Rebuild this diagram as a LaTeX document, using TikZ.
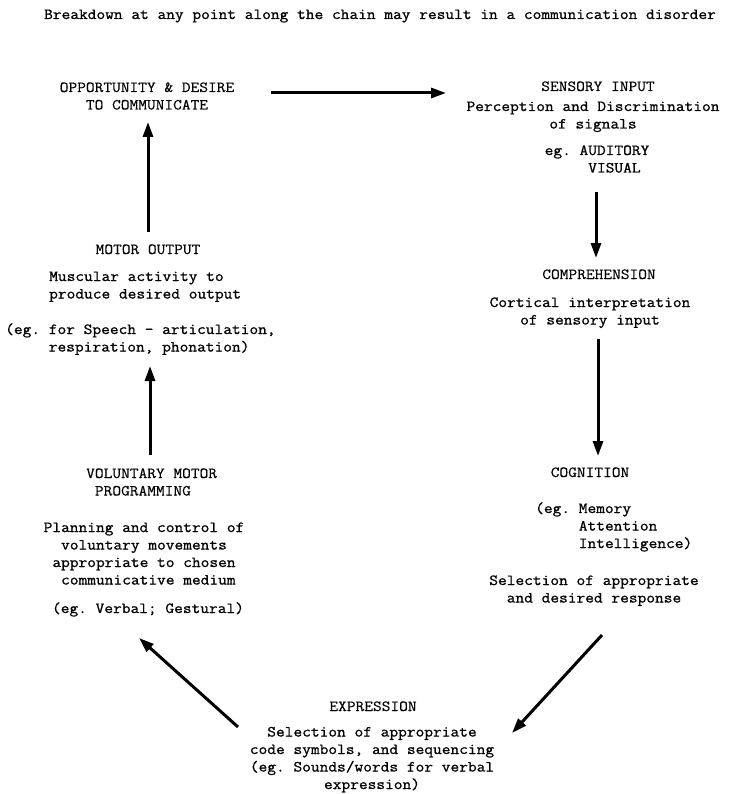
\documentclass[tikz,border=0pt]{standalone}
\usepackage{fontspec}
\newfontfamily\bodyfont{Latin Modern Mono}[FakeStretch=1.1,FakeBold=1]
\newfontfamily\titlefont{Latin Modern Mono}[FakeStretch=1.1,FakeBold=0.4]
\usetikzlibrary{arrows.meta}
\frenchspacing
\tikzset{
  txt/.style={font=\bodyfont\fontsize{15.4pt}{17.5pt}\selectfont\frenchspacing, inner sep=0pt, align=center, anchor=base},
  txtl/.style={txt, align=left, anchor=base west},
  ttl/.style={txt, font=\titlefont\fontsize{15.4pt}{17.5pt}\selectfont\frenchspacing},
  ttll/.style={ttl, align=left, anchor=base west},
  arr/.style={line width=3pt, -{Triangle[length=15pt,width=10pt]}},
}
\begin{document}
\begin{tikzpicture}[x=1pt,y=-1pt]
\useasboundingbox (0,0) rectangle (728,794);
% (for multi-line nodes the base anchor is the baseline of the last line)
% heading
\node[txt] (head) at (380,19) {Breakdown at any point along the chain may result in a communication disorder};
% opportunity
\node[ttl] (opp) at (147,109.5) {OPPORTUNITY \& DESIRE\\TO COMMUNICATE};
% sensory input
\node[ttl] (sens) at (598,91) {SENSORY INPUT};
\node[txt] (sensA) at (593,128.5) {Perception and Discrimination\\of signals};
\node[txt] (sensB) at (597,172.5) {eg. AUDITORY\\\phantom{eg. }VISUAL};
% comprehension
\node[ttl] (comp) at (599,279) {COMPREHENSION};
\node[txt] (compA) at (590,324.5) {Cortical interpretation\\of sensory input};
% cognition
\node[ttl] (cogn) at (590,477) {COGNITION};
\node[txtl] (cognA) at (535,548) {(eg. Memory\\\phantom{(eg. }Attention\\\phantom{(eg. }Intelligence)};
\node[txt] (cognB) at (594,602.5) {Selection of appropriate\\and desired response};
% expression
\node[ttl] (expr) at (373,711) {EXPRESSION};
\node[txt] (exprA) at (372,789) {Selection of appropriate\\code symbols, and sequencing\\(eg. Sounds/words for verbal\\expression)};
% voluntary motor programming
\node[ttll] (vmp) at (86,495.5) {VOLUNTARY MOTOR\\\phantom{V}PROGRAMMING};
\node[txt] (vmpA) at (144,584.5) {Planning and control of\\voluntary movements\\appropriate to chosen\\\phantom{c}communicative medium};
\node[txt] (vmpB) at (148,613) {(eg. Verbal; Gestural)};
% motor output
\node[ttl] (mot) at (148,254) {MOTOR OUTPUT};
\node[txtl] (motA) at (49,298.5) {Muscular activity to\\produce desired output};
\node[txtl] (motB) at (5,351.5) {(eg. for Speech - articulation,\\\phantom{(eg. }respiration, phonation)};
% arrow end points
\coordinate (a1s) at (271,93);  \coordinate (a1e) at (446,93);
\coordinate (a2s) at (596,192); \coordinate (a2e) at (596,258);
\coordinate (a3s) at (598,339); \coordinate (a3e) at (598,456);
\coordinate (a4s) at (602,635); \coordinate (a4e) at (512,733);
\coordinate (a5s) at (238,727); \coordinate (a5e) at (139,638);
\coordinate (a6s) at (150,455); \coordinate (a6e) at (150,366);
\coordinate (a7s) at (148,232); \coordinate (a7e) at (148,122);
\draw[arr] (a1s) -- (a1e);
\draw[arr] (a2s) -- (a2e);
\draw[arr] (a3s) -- (a3e);
\draw[arr] (a4s) -- (a4e);
\draw[arr] (a5s) -- (a5e);
\draw[arr] (a6s) -- (a6e);
\draw[arr] (a7s) -- (a7e);
\end{tikzpicture}
\end{document}
